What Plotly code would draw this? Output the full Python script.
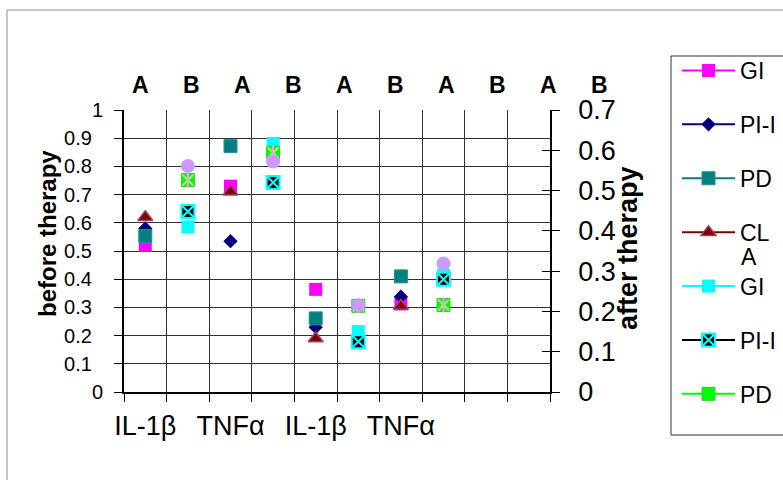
import plotly.graph_objects as go

# ---------------- data ----------------
cat_index = list(range(10))
cat_labels = ["IL-1β", "", "TNFα", "", "IL-1β", "", "TNFα", "", "", ""]
top_labels = ["A", "B", "A", "B", "A", "B", "A", "B", "A", "B"]

gi_before = [0.52, None, 0.73, None, 0.364, None, 0.312, None, None, None]
pii_before = [0.58, None, 0.535, None, 0.23, None, 0.338, None, None, None]
pd_before = [0.553, None, 0.872, None, 0.261, None, 0.41, None, None, None]
cla_before = [0.62, None, 0.71, None, 0.19, None, 0.305, None, None, None]

gi_after = [None, 0.41, None, 0.617, None, 0.150, None, 0.29, None, None]
pii_after = [None, 0.448, None, 0.52, None, 0.125, None, 0.28, None, None]
pd_after = [None, 0.526, None, 0.594, None, 0.214, None, 0.216, None, None]
cla_after = [None, 0.561, None, 0.572, None, 0.215, None, 0.319, None, None]

left_ticks = [0, 0.1, 0.2, 0.3, 0.4, 0.5, 0.6, 0.7, 0.8, 0.9, 1]
right_ticks = [0, 0.1, 0.2, 0.3, 0.4, 0.5, 0.6, 0.7]

# ---------------- layout constants ----------------
W, H = 783, 480
L, R, T, B = 124, 550, 110, 392
PW, PH = R - L, B - T
FONT = "Arial, 'Liberation Sans', sans-serif"


def px_x(p):
    return (p - L) / PW


def px_y(p):
    return (B - p) / PH


fig = go.Figure()

series = [
    ("GI", gi_before, "y", dict(symbol="square", size=13, color="#FF00FF"), "#FF00FF"),
    ("PI-I", pii_before, "y", dict(symbol="diamond", size=11, color="#000080"), "#000080"),
    ("PD", pd_before, "y", dict(symbol="square", size=13, color="#008080",
                                line=dict(color="#2a8f8f", width=1)), "#008080"),
    ("CL", cla_before, "y", dict(symbol="triangle-up", size=13, color="#800000",
                                 line=dict(color="#a0406a", width=1.5)), "#800000"),
    ("GI", gi_after, "y2", dict(symbol="square", size=13, color="#00FFFF"), "#00FFFF"),
    ("PI-I", pii_after, "y2", dict(symbol="square-x", size=13, color="#000000",
                                   line=dict(color="#00FFFF", width=2)), "#000000"),
    ("PD", pd_after, "y2", dict(symbol="square", size=13, color="#00FF00",
                                line=dict(color="#33cc33", width=1)), "#00FF00"),
]

for i, (name, vals, yax, mk, lc) in enumerate(series):
    fig.add_trace(go.Scatter(
        x=cat_index, y=vals, name=name, yaxis=yax,
        mode="lines+markers", connectgaps=False,
        line=dict(color=lc, width=2), marker=mk,
        legendgroup="g%d" % i, cliponaxis=False,
    ))
    if i == 6:
        # asterisk strokes drawn on the lime squares
        for sym in ("x-thin-open", "line-ns-open"):
            fig.add_trace(go.Scatter(
                x=cat_index, y=vals, yaxis=yax, mode="markers", showlegend=False,
                marker=dict(symbol=sym, size=11, line=dict(color="#800080", width=2)),
                hoverinfo="skip", cliponaxis=False,
            ))

fig.add_trace(go.Scatter(
    x=cat_index, y=cla_after, name="CLA", yaxis="y2", mode="markers",
    marker=dict(symbol="circle", size=14, color="#CC99FF"), showlegend=False,
    cliponaxis=False,
))
# carrier for the inward tick marks of the right axis
fig.add_trace(go.Scatter(x=[None], y=[None], yaxis="y3", showlegend=False, hoverinfo="skip"))

grid_col = "#303030"

fig.update_layout(
    width=W, height=H,
    margin=dict(l=L, r=W - R, t=T, b=H - B, pad=0, autoexpand=False),
    paper_bgcolor="white", plot_bgcolor="white",
    font=dict(family=FONT, color="black"),
    showlegend=True,
    legend=dict(
        x=px_x(677), y=px_y(49), xanchor="left", yanchor="top",
        bgcolor="rgba(0,0,0,0)", borderwidth=0,
        font=dict(size=23, family=FONT), tracegroupgap=21,
        itemwidth=53, traceorder="grouped", maxheight=440,
    ),
    xaxis=dict(
        range=[-0.5, 9.5], tickmode="array", tickvals=cat_index, ticktext=cat_labels,
        ticks="", showgrid=False, tickfont=dict(size=27),
        showline=True, linecolor="black", linewidth=2,
        ticklabelstandoff=9,
        minor=dict(tick0=-0.5, dtick=1, ticks="outside", ticklen=8, tickcolor="black",
                   showgrid=True, gridcolor=grid_col, gridwidth=1),
        zeroline=False, fixedrange=True,
    ),
    yaxis=dict(
        range=[0, 1], tickmode="array", tickvals=left_ticks,
        ticktext=[("%g" % v) if v in (0, 1) else ("%g" % v) + "\u00a0\u00a0" for v in left_ticks],
        ticks="outside", ticklen=8, tickcolor="black",
        showgrid=True, gridcolor=grid_col, gridwidth=1,
        showline=True, linecolor="black", linewidth=2,
        tickfont=dict(size=20), ticklabelstandoff=7, zeroline=False,
    ),
    yaxis2=dict(
        range=[0, 0.7], overlaying="y", side="right", anchor="x",
        tickmode="array", tickvals=right_ticks, ticktext=["%g" % v for v in right_ticks],
        ticks="outside", ticklen=8, tickcolor="black",
        showgrid=False, showline=True, linecolor="black", linewidth=1.5,
        tickfont=dict(size=27), ticklabelstandoff=13, zeroline=False,
    ),
    yaxis3=dict(
        range=[0, 0.7], overlaying="y", side="right", anchor="x",
        tickmode="array", tickvals=right_ticks, showticklabels=False,
        ticks="inside", ticklen=8, tickcolor="black",
        showgrid=False, showline=False, zeroline=False,
    ),
)

annotations = [
    dict(text="<b>before therapy</b>", x=px_x(47), y=px_y(234), xref="paper", yref="paper",
         textangle=-90, showarrow=False, font=dict(size=24, family=FONT),
         xanchor="center", yanchor="middle"),
    dict(text="<b>after therapy</b>", x=px_x(628), y=px_y(248), xref="paper", yref="paper",
         textangle=-90, showarrow=False, font=dict(size=27, family=FONT),
         xanchor="center", yanchor="middle"),
    # wrapped remainder of the "CLA" legend label
    dict(text="A", x=px_x(739), y=px_y(257), xref="paper", yref="paper",
         showarrow=False, font=dict(size=23, family=FONT), xanchor="left", yanchor="middle"),
]
for i, lab in enumerate(top_labels):
    annotations.append(dict(
        text="<b>%s</b>" % lab, x=px_x(140 + 51.1 * i), y=px_y(85), xref="paper", yref="paper",
        showarrow=False, font=dict(size=23, family=FONT), xanchor="center", yanchor="middle"))
fig.update_layout(annotations=annotations)

# outer chart border
fig.add_shape(type="rect", xref="paper", yref="paper",
              x0=px_x(7), x1=px_x(W + 20), y0=px_y(H + 20), y1=px_y(10),
              line=dict(color="#8c8c8c", width=1), layer="below")
# legend frame
fig.add_shape(type="rect", xref="paper", yref="paper",
              x0=px_x(671), x1=px_x(W + 20), y0=px_y(435), y1=px_y(56),
              line=dict(color="#303030", width=1), layer="below")

fig.write_html("out.html", config={"displayModeBar": False},
               post_script="document.body.style.margin='0';document.body.style.overflow='hidden';")
